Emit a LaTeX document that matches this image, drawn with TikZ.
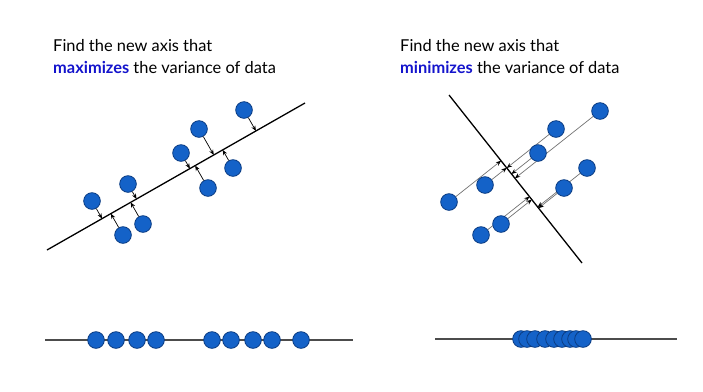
\documentclass[tikz,border=0pt]{standalone}
\usepackage{fontspec}
\setmainfont{Lato}
\usetikzlibrary{calc, arrows.meta, backgrounds}

\definecolor{dotblue}{HTML}{1462C8}
\definecolor{dotedge}{HTML}{0B3C82}
\definecolor{wordblue}{HTML}{1414CC}

\tikzset{
  dot/.style={circle, fill=dotblue, draw=dotedge, line width=0.7pt,
    minimum size=0.5cm, inner sep=0pt},
  axisline/.style={black, line width=1.1pt},
  flatline/.style={black!70, line width=1.1pt},
  proj/.style={black, line width=0.6pt, -{Stealth[length=4.5pt, width=3.6pt]}},
  projlong/.style={black!55, line width=0.6pt, -{Stealth[length=4.5pt, width=3.6pt, black]}},
  title/.style={anchor=north west, align=left, inner sep=0pt,
    font=\fontsize{14}{18.7}\selectfont}
}

\begin{document}
\begin{tikzpicture}[x=0.03cm, y=-0.03cm]
  \useasboundingbox (0,0) rectangle (703,391);

  % titles
  \node[title] (tl) at (53,39) {Find the new axis that\\
    \textbf{\color{wordblue}maximizes} the variance of data};
  \node[title] (tr) at (400,39) {Find the new axis that\\
    \textbf{\color{wordblue}minimizes} the variance of data};

  % left: axis of largest spread
  \coordinate (A) at (47,250);
  \coordinate (B) at (305,103);
  \draw[axisline] (A) -- (B);
  \foreach \n/\x/\y in {l1/244/110, l2/199/129, l3/181/153, l4/233/168,
      l5/208/188, l6/128/184, l7/92/201, l8/143/224, l9/123/235} {
    \node[dot] (\n) at (\x,\y) {};
    \coordinate (\n p) at ($(A)!(\n)!(B)$);
    \draw[proj] (\n) -- (\n p);
  }

  % right: axis of smallest spread
  \coordinate (C) at (449,95);
  \coordinate (D) at (582,263);
  \draw[axisline] (C) -- (D);
  \foreach \n/\x/\y in {r1/600/111, r2/556/129, r3/538/153, r4/587/168,
      r5/485/185, r6/564/188, r7/449/202, r8/501/224, r9/481/235} {
    \node[dot] (\n) at (\x,\y) {};
    \coordinate (\n p) at ($(C)!(\n)!(D)$);
    \begin{pgfonlayer}{background}
      \draw[projlong] (\n) -- (\n p);
    \end{pgfonlayer}
  }

  % projected data, left
  \coordinate (E) at (45,340);
  \coordinate (F) at (353,340);
  \draw[flatline] (E) -- (F);
  \foreach \x [count=\i] in {96,116,137,156,212,231,253,272,301}
    \node[dot] (m\i) at (\x,340) {};

  % projected data, right
  \coordinate (G) at (435,339);
  \coordinate (H) at (677,339);
  \draw[flatline] (G) -- (H);
  \foreach \x [count=\i] in {521,527,535,545,554,562,570,576,583}
    \node[dot] (n\i) at (\x,339) {};
\end{tikzpicture}
\end{document}
